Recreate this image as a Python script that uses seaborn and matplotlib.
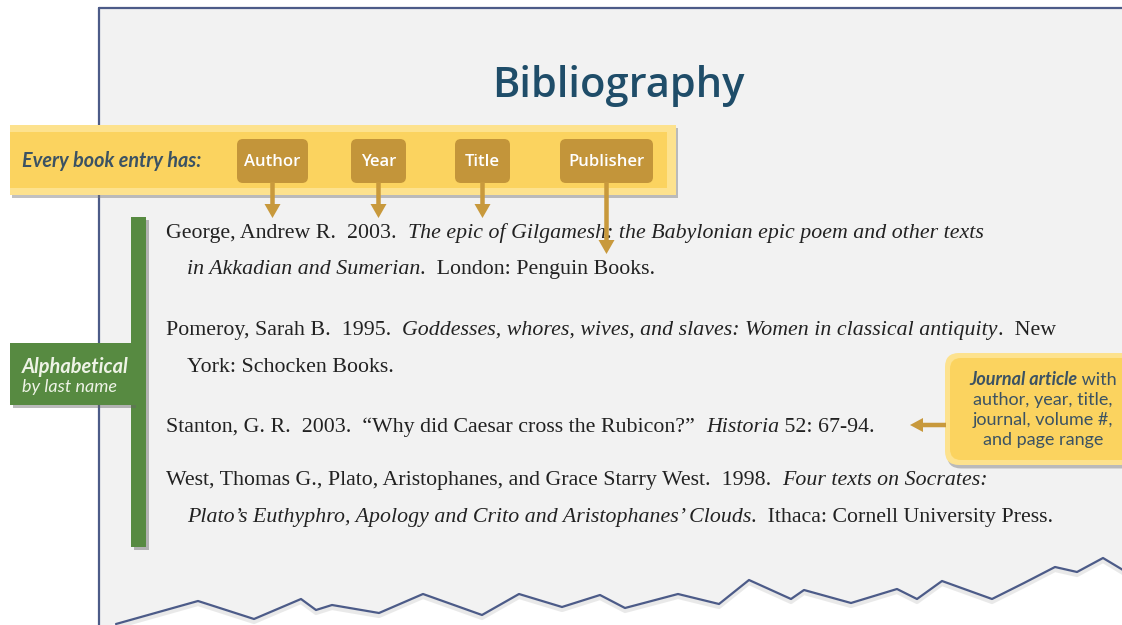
import matplotlib
matplotlib.use("Agg")
import matplotlib.pyplot as plt
import seaborn as sns
from matplotlib.patches import Rectangle, FancyBboxPatch, FancyArrow, Polygon
import matplotlib.patheffects as pe

sns.set_theme(style="white")
plt.rcParams['font.family'] = ['DejaVu Sans']

# ---------------- content ----------------
title_text = "Bibliography"
banner_label = "Every book entry has:"
tag_labels = ["Author", "Year", "Title", "Publisher"]
side_label = ["Alphabetical", "by last name"]

# each entry: list of lines; each line: list of (text, italic)
entry_george = [
    [("George, Andrew R.  2003.  ", False),
     ("The epic of Gilgamesh: the Babylonian epic poem and other texts", True)],
    [("in Akkadian and Sumerian", True), (".  London: Penguin Books.", False)],
]
entry_pomeroy = [
    [("Pomeroy, Sarah B.  1995.  ", False),
     ("Goddesses, whores, wives, and slaves: Women in classical antiquity", True),
     (".  New", False)],
    [("York: Schocken Books.", False)],
]
entry_stanton = [
    [("Stanton, G. R.  2003.  \u201cWhy did Caesar cross the Rubicon?\u201d  ", False),
     ("Historia", True), (" 52: 67-94.", False)],
]
entry_west = [
    [("West, Thomas G., Plato, Aristophanes, and Grace Starry West.  1998.  ", False),
     ("Four texts on Socrates:", True)],
    [("Plato\u2019s Euthyphro, Apology and Crito and Aristophanes\u2019 Clouds", True),
     (".  Ithaca: Cornell University Press.", False)],
]
entries = [entry_george, entry_pomeroy, entry_stanton, entry_west]

callout_lines = [
    [("Journal article", True), (" with", False)],
    [("author, year, title,", False)],
    [("journal, volume #,", False)],
    [("and page range", False)],
]

# torn bottom edge of the page (pixel positions)
torn_x = [116, 198, 254, 301, 316, 332, 379, 423, 482, 519, 562, 600, 625, 678,
          719, 749, 791, 804, 851, 897, 917, 942, 992, 1024, 1055, 1077, 1103, 1123]
torn_y = [624, 601, 619, 599, 610, 605, 613, 594, 615, 594, 607, 595, 608, 594,
          604, 580, 599, 590, 603, 589, 599, 581, 599, 583, 567, 572, 558, 570]

# ---------------- layout / style ----------------
W, H = 1122, 625
PAGE_BG = "#f2f2f2"
PAGE_EDGE = "#4c5b88"
TITLE_C = "#1f4d69"
YELLOW = "#fbd35f"
YELLOW_LIGHT = "#fde28e"
GOLD = "#c3953a"
ARROW_C = "#c8993c"
GREEN = "#578a41"
SLATE = "#3b5263"
BODY = "#222222"

SERIF = "Liberation Serif"
SANS = "Lato"
TITLE_FONT = "Open Sans"
BODY_SIZE = 15.75

tag_x = [(237, 308), (351, 406), (455, 510), (560, 653)]
tag_y = (139, 183)
tag_arrow_tip = [218, 218, 218, 254]

entry_baselines = [[238, 274], [335, 372], [432], [485, 522]]
first_x, indent_x = 166, 187

fig = plt.figure(figsize=(W / 100, H / 100), dpi=100)
ax = fig.add_axes([0, 0, 1, 1])
ax.set_xlim(0, W)
ax.set_ylim(H, 0)
ax.axis("off")
fig.patch.set_facecolor("white")
renderer = fig.canvas.get_renderer()


def text_width(s, **kw):
    """Width in pixels of s, including leading/trailing spaces."""
    t1 = ax.text(0, 0, "|" + s + "|", **kw)
    t2 = ax.text(0, 0, "||", **kw)
    w = t1.get_window_extent(renderer).width - t2.get_window_extent(renderer).width
    t1.remove(); t2.remove()
    return w


def draw_segments(x, y, segs, size, family, color, bold_italic=False, center=False):
    kws = []
    for s, it in segs:
        kw = dict(fontsize=size, family=family, color=color, va="baseline", ha="left")
        if it:
            kw["style"] = "italic"
            if bold_italic:
                kw["weight"] = "bold"
        kws.append(kw)
    widths = [text_width(s, **kw) for (s, _), kw in zip(segs, kws)]
    if center:
        x = x - sum(widths) / 2
    for (s, _), kw, w in zip(segs, kws, widths):
        ax.text(x, y, s, zorder=5, **kw)
        x += w


# ---- page ----
page_pts = [(99, 8), (W + 2, 8), (W + 2, torn_y[-1])] + \
    list(zip(torn_x[::-1], torn_y[::-1])) + [(99, H + 2)]
ax.add_patch(Polygon(page_pts, closed=True, facecolor=PAGE_BG, edgecolor="none", zorder=0))
ax.plot([99, W + 2], [8, 8], color=PAGE_EDGE, lw=1.6, zorder=1)
ax.plot([99, 99], [8, H + 2], color=PAGE_EDGE, lw=1.6, zorder=1)
ax.plot(torn_x, [y + 3 for y in torn_y], color="#aaaaaa", lw=3, alpha=0.25, zorder=1)
ax.plot(torn_x, torn_y, color=PAGE_EDGE, lw=1.6, zorder=2)

# ---- title ----
ax.text(618, 97, title_text, fontsize=30, family=TITLE_FONT, weight="semibold",
        color=TITLE_C, ha="center", va="baseline", zorder=5)

# ---- banner ----
shadow = [pe.withSimplePatchShadow(offset=(1.5, -2), shadow_rgbFace="#777777", alpha=0.45)]
ax.add_patch(Rectangle((10, 125), 666, 70, facecolor=YELLOW_LIGHT, edgecolor="none",
                       zorder=3, path_effects=shadow))
ax.add_patch(Rectangle((10, 132), 657, 56, facecolor=YELLOW, edgecolor="none", zorder=3))
ax.text(22, 167, banner_label, fontsize=14.2, family=SANS, style="italic", weight="bold",
        color=SLATE, ha="left", va="baseline", zorder=5)

for lab, (x0, x1), tip in zip(tag_labels, tag_x, tag_arrow_tip):
    ax.add_patch(FancyBboxPatch((x0, tag_y[0]), x1 - x0, tag_y[1] - tag_y[0],
                                boxstyle="round,pad=0,rounding_size=6",
                                facecolor=GOLD, edgecolor="none", zorder=4))
    ax.text((x0 + x1) / 2, (tag_y[0] + tag_y[1]) / 2 + 1, lab, fontsize=12,
            family=TITLE_FONT, weight="semibold", color="white", ha="center",
            va="center", zorder=5)
    cx = (x0 + x1) / 2
    ax.add_patch(FancyArrow(cx, tag_y[1] - 1, 0, tip - tag_y[1] + 1, width=4.5,
                            head_width=16, head_length=14, length_includes_head=True,
                            facecolor=ARROW_C, edgecolor="none", zorder=6))

# ---- green alphabetical bar ----
gshadow = [pe.withSimplePatchShadow(offset=(2, -2), shadow_rgbFace="#666666", alpha=0.45)]
ax.add_patch(Rectangle((131, 217), 15, 330, facecolor=GREEN, edgecolor="none",
                       zorder=3, path_effects=gshadow))
ax.add_patch(Rectangle((10, 343), 123, 62, facecolor=GREEN, edgecolor="none",
                       zorder=3, path_effects=gshadow))
ax.add_patch(Rectangle((125, 343), 21, 62, facecolor=GREEN, edgecolor="none", zorder=3))
ax.text(75, 373, side_label[0], fontsize=14.4, family=SANS, style="italic", weight="bold",
        color="#eef3e6", ha="center", va="baseline", zorder=5)
ax.text(70, 392, side_label[1], fontsize=13, family=SANS, style="italic",
        color="#eef3e6", ha="center", va="baseline", zorder=5)

# ---- entries ----
for entry, bases in zip(entries, entry_baselines):
    for i, (line, yb) in enumerate(zip(entry, bases)):
        draw_segments(first_x if i == 0 else indent_x, yb, line, BODY_SIZE, SERIF, BODY)

# ---- journal callout ----
cshadow = [pe.withSimplePatchShadow(offset=(1.5, -2.5), shadow_rgbFace="#777777", alpha=0.45)]
ax.add_patch(FancyBboxPatch((945, 353), 190, 112, boxstyle="round,pad=0,rounding_size=14",
                            facecolor=YELLOW_LIGHT, edgecolor="none", zorder=3,
                            path_effects=cshadow))
ax.add_patch(FancyBboxPatch((950, 358), 185, 102, boxstyle="round,pad=0,rounding_size=11",
                            facecolor=YELLOW, edgecolor="none", zorder=3))
for j, line in enumerate(callout_lines):
    draw_segments(1043, 385 + j * 20, line, 13, SANS, SLATE, bold_italic=True, center=True)
ax.add_patch(FancyArrow(946, 425, -36, 0, width=4.5, head_width=14, head_length=13,
                        length_includes_head=True, facecolor=ARROW_C, edgecolor="none",
                        zorder=6))

fig.savefig("out.png", dpi=100, facecolor="white")
